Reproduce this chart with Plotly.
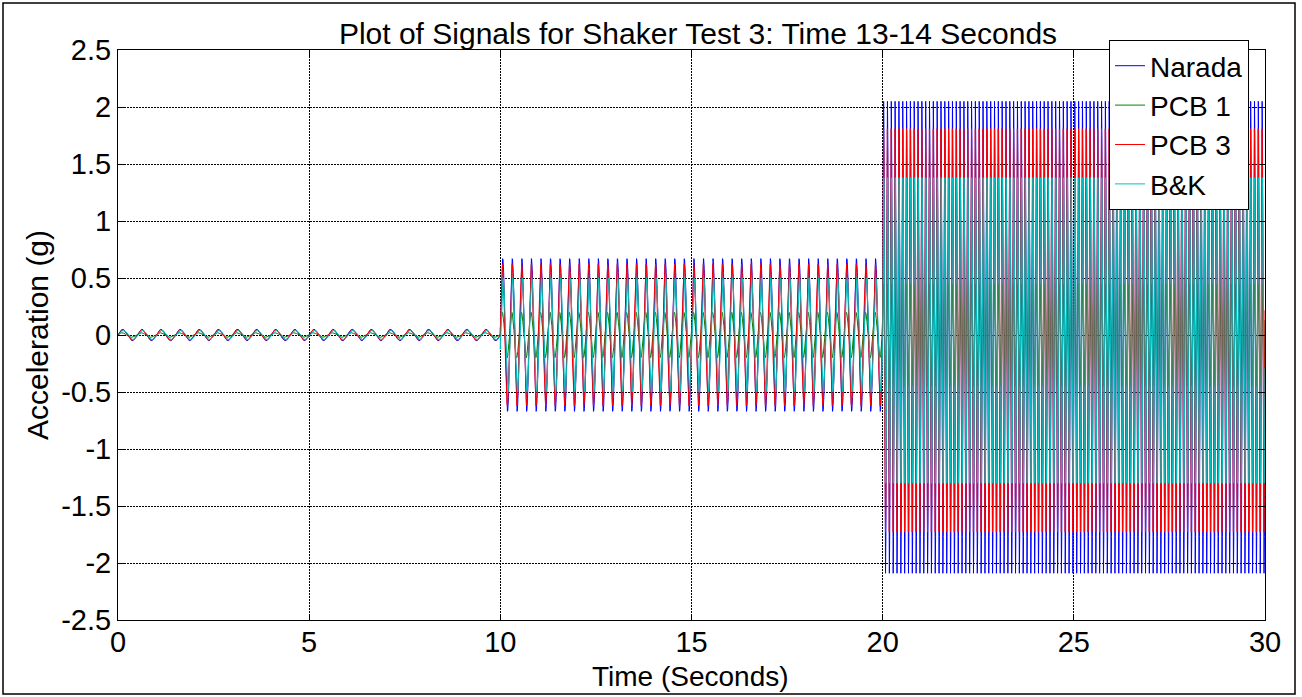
import numpy as np
import plotly.graph_objects as go

# ---- values ----
SENSORS = ["Narada", "PCB 1", "PCB 3", "B&K"]
COLORS = ["#0000FF", "#008000", "#FF0000", "#00BFBF"]

SEGMENT_START_S = [0.0, 10.0, 20.0]
SEGMENT_END_S = [10.0, 20.0, 30.0]
SEGMENT_FREQ_HZ = [2.0, 4.0, 10.0]      # counted peaks per second in each block
SAMPLE_RATE_HZ = 1000.0

# peak amplitude (g) of each sensor in each block
AMP_NARADA = [0.05, 0.67, 2.07]
AMP_PCB1 = [0.02, 0.20, 0.45]
AMP_PCB3 = [0.045, 0.62, 1.77]
AMP_BK = [0.04, 0.50, 1.34]
# centre level (g) of each sensor in each block
OFFSET_NARADA = [0.0, 0.0, -0.02]
OFFSET_PCB1 = [0.0, 0.0, 0.0]
OFFSET_PCB3 = [0.0, 0.0, 0.04]
OFFSET_BK = [0.0, 0.0, 0.04]
# phase lag (rad) of each sensor relative to Narada
PHASE = [0.0, 0.3, 0.1, -0.25]

X_TICKS = [0, 5, 10, 15, 20, 25, 30]
Y_TICKS = [-2.5, -2, -1.5, -1, -0.5, 0, 0.5, 1, 1.5, 2, 2.5]
Y_TICK_TEXT = ["-2.5", "-2", "-1.5", "-1", "-0.5", "0", "0.5", "1", "1.5", "2", "2.5"]

AMPS = [AMP_NARADA, AMP_PCB1, AMP_PCB3, AMP_BK]
OFFS = [OFFSET_NARADA, OFFSET_PCB1, OFFSET_PCB3, OFFSET_BK]

t = np.arange(0.0, SEGMENT_END_S[-1] + 1e-9, 1.0 / SAMPLE_RATE_HZ)

fig = go.Figure()
for name, color, amps, offs, ph in zip(SENSORS, COLORS, AMPS, OFFS, PHASE):
    y = np.zeros_like(t)
    for k in range(len(SEGMENT_START_S)):
        if k == len(SEGMENT_START_S) - 1:
            m = (t >= SEGMENT_START_S[k]) & (t <= SEGMENT_END_S[k])
        else:
            m = (t >= SEGMENT_START_S[k]) & (t < SEGMENT_END_S[k])
        y[m] = offs[k] + amps[k] * np.sin(2 * np.pi * SEGMENT_FREQ_HZ[k] * t[m] + ph)
    fig.add_trace(go.Scatter(x=t, y=np.round(y, 4), mode="lines", name=name,
                             line=dict(color=color, width=1)))

W, H = 1302, 697
L, R, T, B = 118, 1265, 50, 620
def px_x(p):
    return (p - L) / (R - L)
def px_y(p):
    return (B - p) / (B - T)

FONT = "Arial, Liberation Sans, sans-serif"
fig.update_layout(
    width=W, height=H,
    margin=dict(l=L, r=W - R, t=T, b=H - B, autoexpand=False),
    paper_bgcolor="white", plot_bgcolor="white",
    font=dict(family=FONT, size=29, color="black"),
    title=dict(text="Plot of Signals for Shaker Test 3: Time 13-14 Seconds",
               x=(698) / W, xanchor="center", xref="container",
               y=1 - 33 / H, yanchor="middle", yref="container",
               font=dict(size=30, family=FONT, color="black")),
    showlegend=True,
    legend=dict(x=px_x(1109), y=px_y(40), xanchor="left", yanchor="top",
                bgcolor="white", bordercolor="black", borderwidth=1,
                font=dict(size=28, family=FONT, color="black"),
                tracegroupgap=0, itemwidth=30),
    shapes=[dict(type="rect", xref="paper", yref="paper",
                 x0=px_x(3), x1=px_x(1295), y0=px_y(694), y1=px_y(3),
                 line=dict(color="black", width=1.5), layer="below")],
    annotations=[dict(text="Time (Seconds)", xref="paper", yref="paper",
                      x=px_x(690), y=px_y(676), xanchor="center", yanchor="middle",
                      showarrow=False, borderpad=0,
                      font=dict(size=28, family=FONT, color="black"))],
)
fig.update_xaxes(range=[0, 30], tickvals=X_TICKS, ticktext=[str(v) for v in X_TICKS],
                 showgrid=True, gridcolor="black", griddash="2px,1px", gridwidth=1,
                 zeroline=False, showline=True, linecolor="black", linewidth=1,
                 mirror="ticks", ticks="inside", ticklen=6, tickcolor="black",
                 ticklabelstandoff=-4,
                 tickfont=dict(size=29, family=FONT))
fig.update_yaxes(range=[-2.5, 2.5], tickvals=Y_TICKS, ticktext=Y_TICK_TEXT,
                 showgrid=True, gridcolor="black", griddash="2px,1px", gridwidth=1,
                 zeroline=False, showline=True, linecolor="black", linewidth=1,
                 mirror="ticks", ticks="inside", ticklen=6, tickcolor="black",
                 tickfont=dict(size=29, family=FONT),
                 title=dict(text="Acceleration (g)", font=dict(size=30, family=FONT), standoff=3))

fig.write_html("out.html")
